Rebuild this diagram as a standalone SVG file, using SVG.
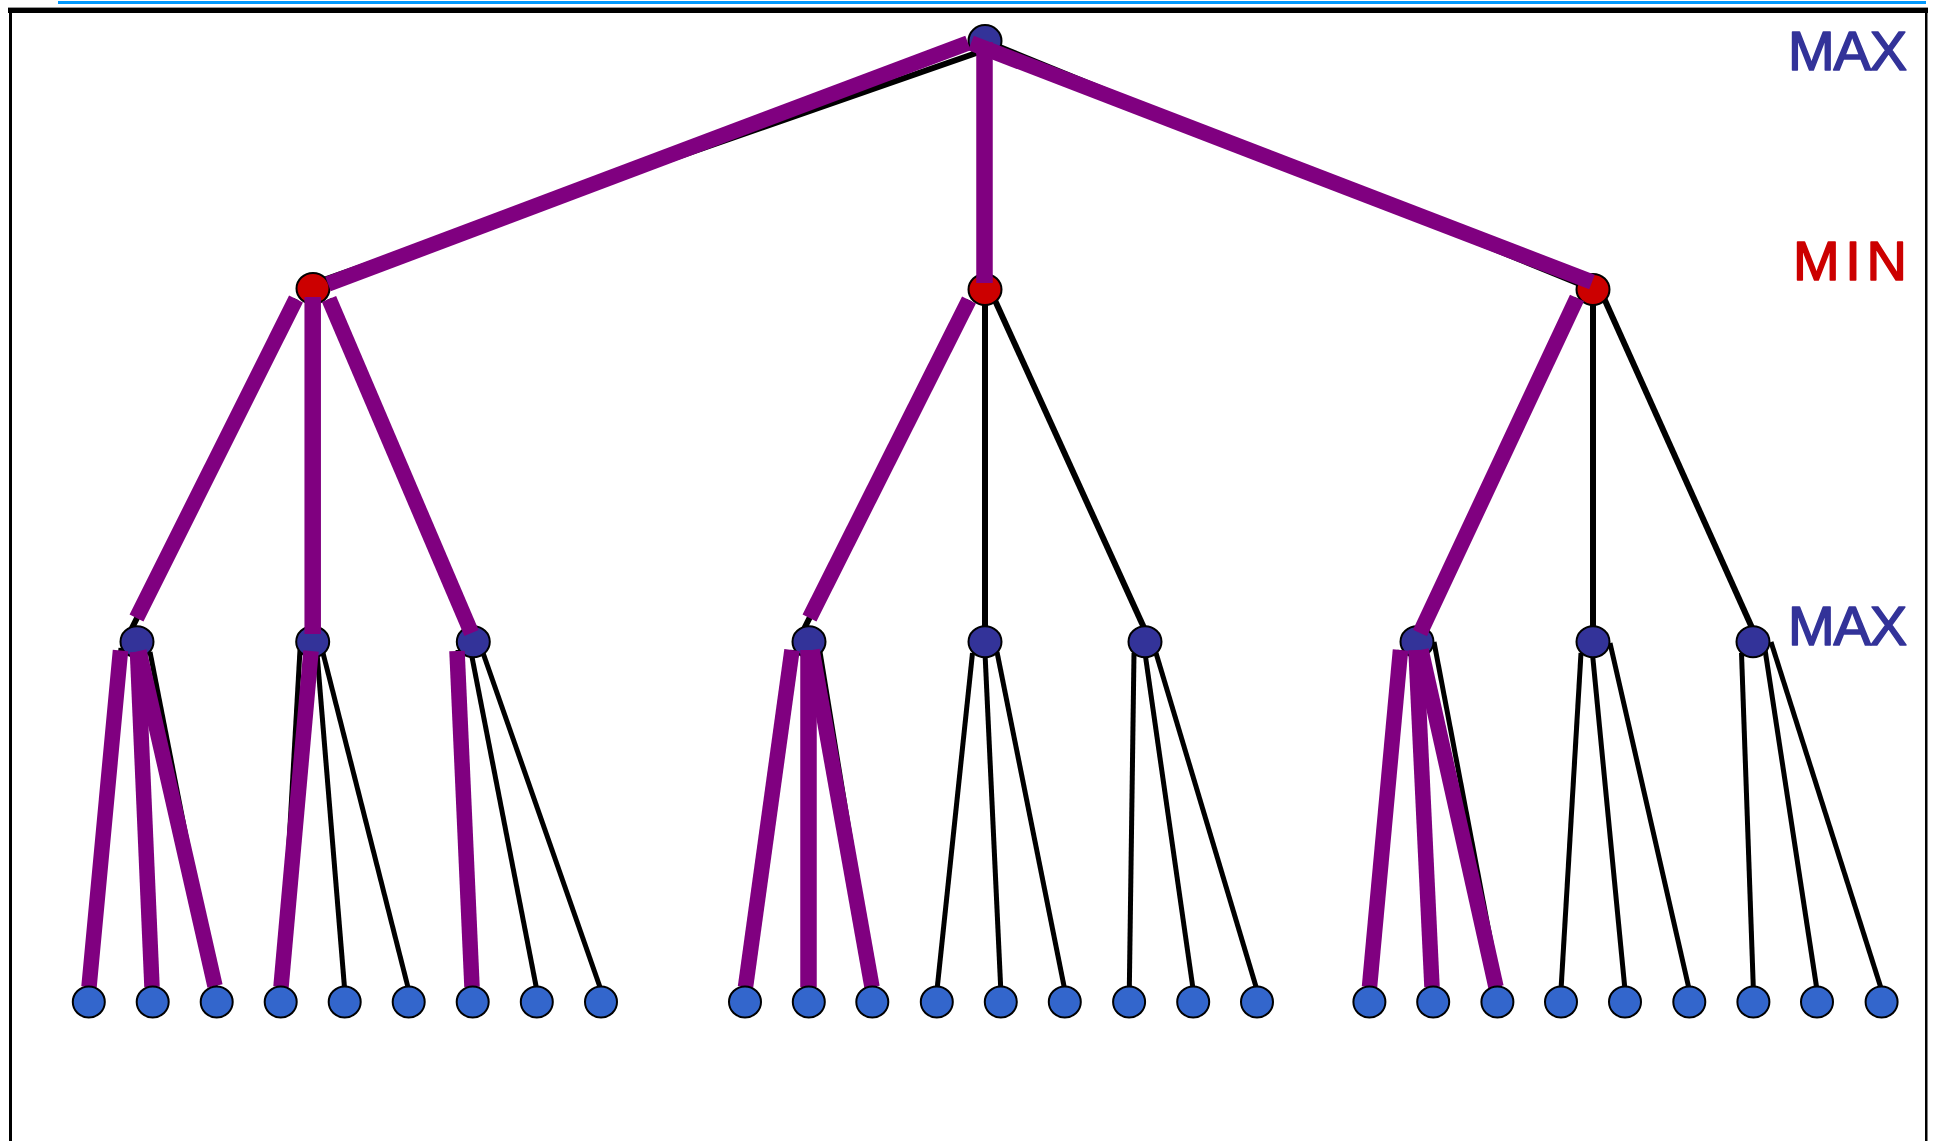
<svg xmlns="http://www.w3.org/2000/svg" width="1935" height="1141" viewBox="0 0 1935 1141">
<style>
.max{fill:#333399;stroke:#000;stroke-width:2}
.min{fill:#CC0000;stroke:#000;stroke-width:2}
.leaf{fill:#3366CC;stroke:#000;stroke-width:2}
.e1{stroke:#000;stroke-width:6;fill:none}
.e2{stroke:#000;stroke-width:5;fill:none}
.hp{stroke:#800080;stroke-width:15.5;fill:none;stroke-linecap:butt}
.lbl{font-family:"Liberation Sans","DejaVu Sans",sans-serif;font-size:56px;stroke-width:1.6;stroke-linejoin:round}
</style>
<rect width="1935" height="1141" fill="#fff"/>
<g id="frame">
<rect x="58" y="1" width="1868" height="3" fill="#0099FF"/>
<rect x="8" y="7" width="1920" height="1" fill="#999"/>
<rect x="8" y="8" width="1920" height="5" fill="#000"/>
<rect x="9" y="8" width="3" height="1133" fill="#000"/>
<rect x="1925" y="8" width="2.5" height="1133" fill="#000"/>
</g>
<g id="connectors">
<g id="tree-edges">
<line class="e1" x1="985" y1="50" x2="312" y2="284"/>
<line class="e1" x1="985" y1="41" x2="985" y2="289"/>
<line class="e1" x1="985" y1="41" x2="1592" y2="289"/>
<line class="e1" x1="296" y1="299" x2="131" y2="630"/>
<line class="e1" x1="312.7" y1="289" x2="312.7" y2="642"/>
<line class="e1" x1="329" y1="299" x2="472" y2="636"/>
<line class="e1" x1="969" y1="300" x2="804.5" y2="628"/>
<line class="e1" x1="985" y1="289" x2="985" y2="642"/>
<line class="e1" x1="993" y1="296" x2="1145" y2="630"/>
<line class="e1" x1="1577" y1="298" x2="1416" y2="640"/>
<line class="e1" x1="1593" y1="289" x2="1593" y2="642"/>
<line class="e1" x1="1603" y1="296" x2="1753" y2="630"/>
<line class="e2" x1="121" y1="648" x2="89" y2="990"/>
<line class="e2" x1="137" y1="648" x2="152" y2="990"/>
<line class="e2" x1="150" y1="652" x2="216" y2="990"/>
<line class="e2" x1="300" y1="650" x2="280.7" y2="990"/>
<line class="e2" x1="317" y1="653" x2="344.7" y2="990"/>
<line class="e2" x1="323" y1="653" x2="408.7" y2="990"/>
<line class="e2" x1="458" y1="650" x2="472.7" y2="990"/>
<line class="e2" x1="472" y1="657" x2="536.8" y2="990"/>
<line class="e2" x1="482" y1="650" x2="601" y2="990"/>
<line class="e2" x1="793" y1="650" x2="745" y2="990"/>
<line class="e2" x1="808.7" y1="650" x2="808.7" y2="990"/>
<line class="e2" x1="820" y1="652" x2="875" y2="990"/>
<line class="e2" x1="972.5" y1="653" x2="937" y2="990"/>
<line class="e2" x1="985" y1="653" x2="1000.8" y2="990"/>
<line class="e2" x1="997" y1="652" x2="1064.8" y2="990"/>
<line class="e2" x1="1134" y1="653" x2="1129.3" y2="990"/>
<line class="e2" x1="1145" y1="653" x2="1193.2" y2="990"/>
<line class="e2" x1="1156" y1="653" x2="1257" y2="990"/>
<line class="e2" x1="1400" y1="650" x2="1369.5" y2="990"/>
<line class="e2" x1="1416" y1="650" x2="1432.5" y2="990"/>
<line class="e2" x1="1434" y1="642" x2="1500" y2="990"/>
<line class="e2" x1="1581" y1="653" x2="1561" y2="990"/>
<line class="e2" x1="1592.4" y1="653" x2="1625" y2="990"/>
<line class="e2" x1="1610" y1="643" x2="1689.3" y2="990"/>
<line class="e2" x1="1741.5" y1="653" x2="1753.4" y2="990"/>
<line class="e2" x1="1764" y1="643" x2="1817" y2="990"/>
<line class="e2" x1="1771" y1="642" x2="1881.6" y2="990"/>
</g>
</g>
<g id="internal-nodes">
<g id="n-root"><ellipse class="max" cx="985" cy="41" rx="16.5" ry="16"/></g>
<g id="n-min1"><ellipse class="min" cx="313" cy="288.5" rx="16.5" ry="15.5"/></g>
<g id="n-min2"><ellipse class="min" cx="985" cy="289.5" rx="16.5" ry="15.5"/></g>
<g id="n-min3"><ellipse class="min" cx="1593" cy="289.5" rx="16.5" ry="15.5"/></g>
<g id="n-max1"><ellipse class="max" cx="137" cy="641.7" rx="16.5" ry="15.5"/></g>
<g id="n-max2"><ellipse class="max" cx="312.7" cy="641.7" rx="16.5" ry="15.5"/></g>
<g id="n-max3"><ellipse class="max" cx="473.3" cy="641.7" rx="16.5" ry="15.5"/></g>
<g id="n-max4"><ellipse class="max" cx="809" cy="641.7" rx="16.5" ry="15.5"/></g>
<g id="n-max5"><ellipse class="max" cx="985" cy="641.7" rx="16.5" ry="15.5"/></g>
<g id="n-max6"><ellipse class="max" cx="1145" cy="641.7" rx="16.5" ry="15.5"/></g>
<g id="n-max7"><ellipse class="max" cx="1417" cy="641.7" rx="16.5" ry="15.5"/></g>
<g id="n-max8"><ellipse class="max" cx="1593" cy="641.7" rx="16.5" ry="15.5"/></g>
<g id="n-max9"><ellipse class="max" cx="1753" cy="641.7" rx="16.5" ry="15.5"/></g>
</g>
<g id="connectors-highlight">
<line class="hp" x1="968" y1="43" x2="328" y2="284"/>
<line class="hp" x1="984.5" y1="42" x2="984.5" y2="283" style="stroke-width:16.5"/>
<line class="hp" x1="971" y1="43" x2="1592" y2="282"/>
<line class="hp" x1="296" y1="299" x2="136.5" y2="618"/>
<line class="hp" x1="312.7" y1="297" x2="312.7" y2="634" style="stroke-width:16.5"/>
<line class="hp" x1="329" y1="299" x2="471.5" y2="633"/>
<line class="hp" x1="969" y1="300" x2="809.5" y2="618"/>
<line class="hp" x1="1577" y1="298" x2="1420" y2="633"/>
<line class="hp" x1="120.5" y1="650.5" x2="89" y2="987"/>
<line class="hp" x1="137.5" y1="652" x2="152" y2="987"/>
<line class="hp" x1="139" y1="651" x2="215" y2="986"/>
<line class="hp" x1="311" y1="651" x2="281" y2="987"/>
<line class="hp" x1="457" y1="651" x2="472" y2="987"/>
<line class="hp" x1="792" y1="650" x2="745.5" y2="987"/>
<line class="hp" x1="808.5" y1="650" x2="808.5" y2="987" style="stroke-width:16.5"/>
<line class="hp" x1="812" y1="650" x2="872" y2="987"/>
<line class="hp" x1="1400.5" y1="650" x2="1369.5" y2="987"/>
<line class="hp" x1="1416" y1="650" x2="1432" y2="987"/>
<line class="hp" x1="1421" y1="650" x2="1496" y2="987"/>
</g>
<g id="leaves">
<g id="l1"><ellipse class="leaf" cx="88.8" cy="1002" rx="16" ry="15.5"/></g>
<g id="l2"><ellipse class="leaf" cx="152.7" cy="1002" rx="16" ry="15.5"/></g>
<g id="l3"><ellipse class="leaf" cx="216.7" cy="1002" rx="16" ry="15.5"/></g>
<g id="l4"><ellipse class="leaf" cx="280.7" cy="1002" rx="16" ry="15.5"/></g>
<g id="l5"><ellipse class="leaf" cx="344.7" cy="1002" rx="16" ry="15.5"/></g>
<g id="l6"><ellipse class="leaf" cx="408.7" cy="1002" rx="16" ry="15.5"/></g>
<g id="l7"><ellipse class="leaf" cx="472.7" cy="1002" rx="16" ry="15.5"/></g>
<g id="l8"><ellipse class="leaf" cx="536.8" cy="1002" rx="16" ry="15.5"/></g>
<g id="l9"><ellipse class="leaf" cx="601" cy="1002" rx="16" ry="15.5"/></g>
<g id="l10"><ellipse class="leaf" cx="745" cy="1002" rx="16" ry="15.5"/></g>
<g id="l11"><ellipse class="leaf" cx="808.8" cy="1002" rx="16" ry="15.5"/></g>
<g id="l12"><ellipse class="leaf" cx="872.3" cy="1002" rx="16" ry="15.5"/></g>
<g id="l13"><ellipse class="leaf" cx="936.8" cy="1002" rx="16" ry="15.5"/></g>
<g id="l14"><ellipse class="leaf" cx="1000.8" cy="1002" rx="16" ry="15.5"/></g>
<g id="l15"><ellipse class="leaf" cx="1064.8" cy="1002" rx="16" ry="15.5"/></g>
<g id="l16"><ellipse class="leaf" cx="1129.1" cy="1002" rx="16" ry="15.5"/></g>
<g id="l17"><ellipse class="leaf" cx="1193.2" cy="1002" rx="16" ry="15.5"/></g>
<g id="l18"><ellipse class="leaf" cx="1257" cy="1002" rx="16" ry="15.5"/></g>
<g id="l19"><ellipse class="leaf" cx="1369.4" cy="1002" rx="16" ry="15.5"/></g>
<g id="l20"><ellipse class="leaf" cx="1433.2" cy="1002" rx="16" ry="15.5"/></g>
<g id="l21"><ellipse class="leaf" cx="1497.4" cy="1002" rx="16" ry="15.5"/></g>
<g id="l22"><ellipse class="leaf" cx="1561" cy="1002" rx="16" ry="15.5"/></g>
<g id="l23"><ellipse class="leaf" cx="1625" cy="1002" rx="16" ry="15.5"/></g>
<g id="l24"><ellipse class="leaf" cx="1689.3" cy="1002" rx="16" ry="15.5"/></g>
<g id="l25"><ellipse class="leaf" cx="1753.4" cy="1002" rx="16" ry="15.5"/></g>
<g id="l26"><ellipse class="leaf" cx="1817" cy="1002" rx="16" ry="15.5"/></g>
<g id="l27"><ellipse class="leaf" cx="1881.6" cy="1002" rx="16" ry="15.5"/></g>
</g>
<g id="labels">
<text class="lbl" x="1788" y="70" fill="#333399" stroke="#333399" textLength="119" lengthAdjust="spacing">MAX</text>
<text class="lbl" x="1793" y="280" fill="#CC0000" stroke="#CC0000" textLength="114" lengthAdjust="spacing">MIN</text>
<text class="lbl" x="1788" y="645" fill="#333399" stroke="#333399" textLength="119" lengthAdjust="spacing">MAX</text>
</g>
</svg>
